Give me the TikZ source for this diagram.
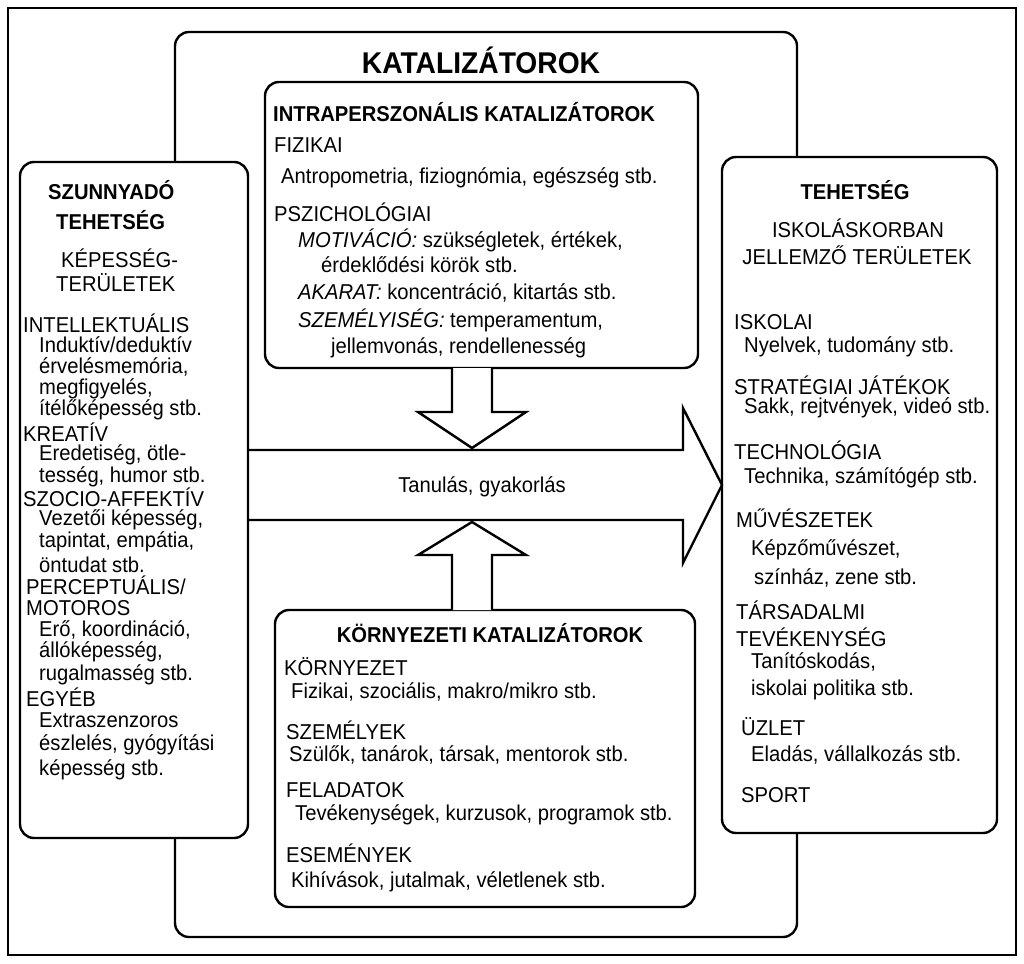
\documentclass[tikz,border=0pt]{standalone}
\usepackage{fontspec}
\setmainfont[FakeStretch=0.94]{Liberation Sans}
\begin{document}
\begin{tikzpicture}[x=1pt,y=-1pt,line width=2.4pt,
  box/.style={draw,rounded corners=14pt,fill=white},
  t/.style={anchor=west,inner sep=0pt,font=\fontsize{21.5}{22}\selectfont},
  tc/.style={inner sep=0pt,font=\fontsize{21.5}{22}\selectfont\bfseries}]
\useasboundingbox (0,0) rectangle (1024,963);
\draw[line width=2pt] (8,8) rectangle (1016,955);
\draw[box] (175,32) rectangle (797,937);
\node[font=\fontsize{30}{30}\selectfont\bfseries] (title) at (481,60) {KATALIZÁTOROK};
% boxes
\node[box,minimum width=433pt,minimum height=286pt] (intra) at (481.5,225) {};
\node[box,minimum width=228pt,minimum height=676pt] (left) at (134,500) {};
\node[box,minimum width=275pt,minimum height=676pt] (right) at (859.5,495) {};
\node[box,minimum width=420pt,minimum height=297pt] (env) at (485,758.5) {};
% big arrow
\draw[line join=miter] (248,450) -- (683,450) -- (683,408) -- (722,485) -- (683,563) -- (683,520) -- (248,520);
\node[t,anchor=center] (learn) at (482,487) {Tanulás, gyakorlás};
% down arrow
\draw[fill=white] (452,368) -- (452,412) -- (418,412) -- (472,448) -- (526,412) -- (492,412) -- (492,368);
% up arrow
\draw[fill=white] (452,610) -- (452,555) -- (418,555) -- (472,522) -- (526,555) -- (492,555) -- (492,610);
% intra text
\node[t,font=\fontsize{21.5}{22}\selectfont\bfseries] at (272,112) {INTRAPERSZONÁLIS KATALIZÁTOROK};
\node[t] at (273,145) {FIZIKAI};
\node[t] at (280,178) {Antropometria, fiziognómia, egészség stb.};
\node[t] at (273,212) {PSZICHOLÓGIAI};
\node[t] at (297,240) {\textit{MOTIVÁCIÓ:} szükségletek, értékek,};
\node[t] at (320,265) {érdeklődési körök stb.};
\node[t] at (297,293) {\textit{AKARAT:} koncentráció, kitartás stb.};
\node[t] at (297,320) {\textit{SZEMÉLYISÉG:} temperamentum,};
\node[t] at (330,348) {jellemvonás, rendellenesség};
% left text
\node[tc,anchor=west] at (47,190) {SZUNNYADÓ};
\node[tc,anchor=west] at (55,220) {TEHETSÉG};
\node[t] at (60,258) {KÉPESSÉG-};
\node[t] at (55,283) {TERÜLETEK};
\node[t] at (22,323) {INTELLEKTUÁLIS};
\node[t] at (38,345) {Induktív/deduktív};
\node[t] at (38,367) {érvelésmemória,};
\node[t] at (38,389) {megfigyelés,};
\node[t] at (38,410) {ítélőképesség stb.};
\node[t] at (22,432) {KREATÍV};
\node[t] at (38,455) {Eredetiség, ötle-};
\node[t] at (38,477) {tesség, humor stb.};
\node[t] at (22,497) {SZOCIO-AFFEKTÍV};
\node[t] at (38,520) {Vezetői képesség,};
\node[t] at (38,542) {tapintat, empátia,};
\node[t] at (38,565) {öntudat stb.};
\node[t] at (25,585) {PERCEPTUÁLIS/};
\node[t] at (25,608) {MOTOROS};
\node[t] at (38,630) {Erő, koordináció,};
\node[t] at (38,652) {állóképesség,};
\node[t] at (38,675) {rugalmasség stb.};
\node[t] at (25,697) {EGYÉB};
\node[t] at (38,720) {Extraszenzoros};
\node[t] at (38,745) {észlelés, gyógyítási};
\node[t] at (38,770) {képesség stb.};
% right text
\node[tc] at (855,190) {TEHETSÉG};
\node[t,anchor=center] at (858,228) {ISKOLÁSKORBAN};
\node[t,anchor=center] at (857,255) {JELLEMZŐ TERÜLETEK};
\node[t] at (733,322) {ISKOLAI};
\node[t] at (743,347) {Nyelvek, tudomány stb.};
\node[t] at (733,385) {STRATÉGIAI JÁTÉKOK};
\node[t] at (743,408) {Sakk, rejtvények, videó stb.};
\node[t] at (733,450) {TECHNOLÓGIA};
\node[t] at (743,478) {Technika, számítógép stb.};
\node[t] at (735,518) {MŰVÉSZETEK};
\node[t] at (750,550) {Képzőművészet,};
\node[t] at (753,578) {színház, zene stb.};
\node[t] at (735,610) {TÁRSADALMI};
\node[t] at (735,637) {TEVÉKENYSÉG};
\node[t] at (750,662) {Tanítóskodás,};
\node[t] at (750,690) {iskolai politika stb.};
\node[t] at (740,727) {ÜZLET};
\node[t] at (750,755) {Eladás, vállalkozás stb.};
\node[t] at (740,795) {SPORT};
% env text
\node[tc] at (490,633) {KÖRNYEZETI KATALIZÁTOROK};
\node[t] at (283,667) {KÖRNYEZET};
\node[t] at (290,692) {Fizikai, szociális, makro/mikro stb.};
\node[t] at (285,730) {SZEMÉLYEK};
\node[t] at (288,755) {Szülők, tanárok, társak, mentorok stb.};
\node[t] at (285,790) {FELADATOK};
\node[t] at (294,815) {Tevékenységek, kurzusok, programok stb.};
\node[t] at (285,853) {ESEMÉNYEK};
\node[t] at (290,882) {Kihívások, jutalmak, véletlenek stb.};
\end{tikzpicture}
\end{document}
